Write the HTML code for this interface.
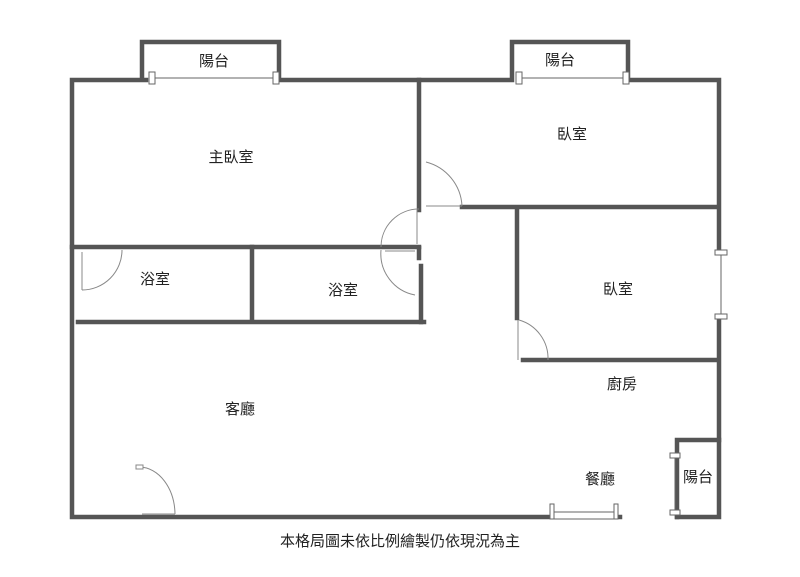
<!DOCTYPE html>
<html><head><meta charset="utf-8"><style>
body{margin:0;background:#fff;width:800px;height:577px;overflow:hidden}
svg{display:block}
text{font-family:"Liberation Sans","Noto Sans CJK TC",sans-serif;font-size:15px;fill:#222;text-anchor:middle;dominant-baseline:middle}
</style></head><body>
<svg width="800" height="577" viewBox="0 0 800 577">
<g stroke="#555" stroke-width="4.5" fill="none" stroke-linecap="square">
<path d="M72 80 L146 80 M142 80 L142 42 L279 42 L279 80 M279 80 L512 80 M512 80 L512 42 L628 42 L628 80 M628 80 L719 80 L719 250 M719 318 L719 517 L677 517 M620 517 L72 517 L72 80"/>
<path d="M419 80 L419 210 M419 248 L419 258 M421 266 L421 322"/>
<path d="M72 247 L419 247"/>
<path d="M252 247 L252 322 M78 322 L424 322"/>
<path d="M462 207 L716 207 M517 210 L517 318 M523 360 L716 360"/>
<path d="M677 517 L677 440 L719 440"/>
</g>
<g stroke="#666" stroke-width="1" fill="#fff">
<line x1="150" y1="78" x2="275" y2="78"/>
<rect x="149" y="72" width="6" height="12"/><rect x="273" y="72" width="6" height="12"/>
<line x1="518" y1="78" x2="623" y2="78"/>
<rect x="516" y="72" width="6" height="12"/><rect x="623" y="72" width="6" height="12"/>
<line x1="721" y1="250" x2="721" y2="318"/>
<rect x="715" y="250" width="12" height="5"/><rect x="715" y="314" width="12" height="5"/>
<line x1="675" y1="457" x2="675" y2="512"/>
<rect x="670" y="453" width="10" height="5"/><rect x="670" y="510" width="10" height="5"/>
<rect x="552" y="512" width="64" height="7" fill="#fff"/>
<rect x="550" y="504" width="4" height="15"/><rect x="614" y="504" width="4" height="15"/>
</g>
<g stroke="#888" stroke-width="1" fill="none">
<path d="M122 250 A40 40 0 0 1 82 290"/><line x1="82" y1="252" x2="82" y2="290"/>
<path d="M419 209 A38 38 0 0 0 381 247"/><line x1="417" y1="210" x2="417" y2="244"/>
<path d="M381 250 A42 42 0 0 0 415 295"/><line x1="385" y1="251" x2="415" y2="251"/>
<path d="M426 162 A48 48 0 0 1 462 206"/><line x1="426" y1="206" x2="462" y2="206"/>
<path d="M519 320 A40 40 0 0 1 548 360"/><line x1="518" y1="320" x2="518" y2="360"/>
<path d="M140 467 A36 48 0 0 1 175 514"/><line x1="142" y1="514" x2="175" y2="514"/>
<rect x="136" y="465" width="7" height="4" fill="#fff"/>
</g>
<text x="214" y="62">陽台</text>
<text x="560" y="61">陽台</text>
<text x="231" y="158">主臥室</text>
<text x="572" y="135">臥室</text>
<text x="155" y="280">浴室</text>
<text x="343" y="291">浴室</text>
<text x="618" y="290">臥室</text>
<text x="622" y="385">廚房</text>
<text x="240" y="410">客廳</text>
<text x="600" y="480">餐廳</text>
<text x="698" y="478">陽台</text>
<text x="400" y="542">本格局圖未依比例繪製仍依現況為主</text>
</svg>
</body></html>
